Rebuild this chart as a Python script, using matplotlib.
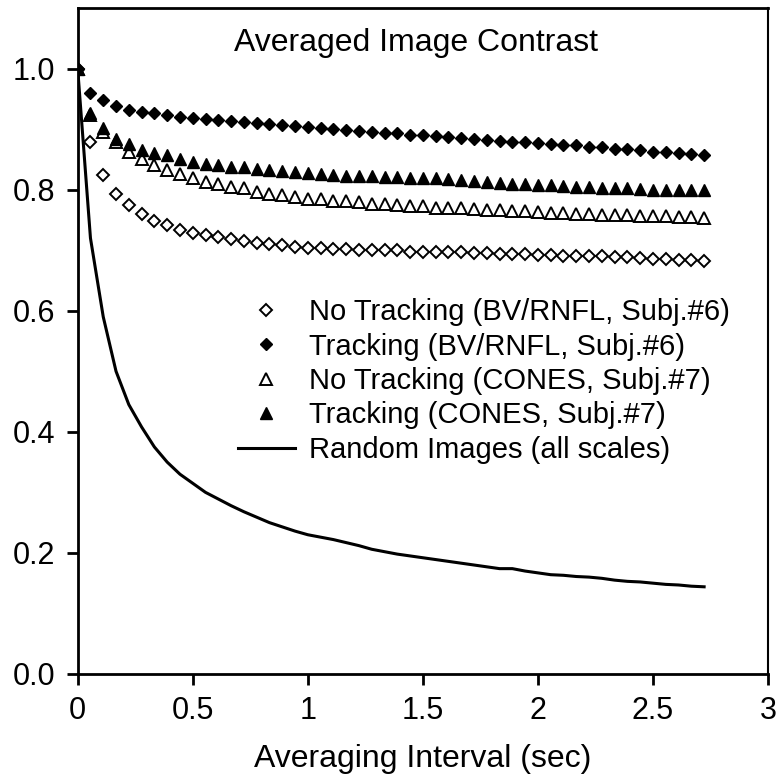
import numpy as np
import matplotlib
matplotlib.use("Agg")
import matplotlib.pyplot as plt

plt.rcParams['font.family'] = ['Liberation Sans', 'DejaVu Sans']

# averaging interval, frames at 18 Hz
t = np.arange(50) / 18.0

no_trk_bv = [1.0, 0.879, 0.824, 0.793, 0.774, 0.760, 0.748, 0.741, 0.733, 0.729,
             0.725, 0.722, 0.718, 0.716, 0.712, 0.711, 0.709, 0.705, 0.704, 0.704,
             0.702, 0.702, 0.701, 0.701, 0.700, 0.700, 0.697, 0.697, 0.697, 0.697,
             0.697, 0.696, 0.695, 0.694, 0.694, 0.693, 0.692, 0.692, 0.691, 0.691,
             0.690, 0.690, 0.689, 0.688, 0.687, 0.686, 0.685, 0.684, 0.684, 0.683]

trk_bv = [1.0, 0.959, 0.948, 0.939, 0.931, 0.928, 0.926, 0.923, 0.920, 0.918,
          0.917, 0.915, 0.914, 0.912, 0.910, 0.908, 0.907, 0.905, 0.903, 0.902,
          0.900, 0.898, 0.897, 0.896, 0.894, 0.893, 0.891, 0.890, 0.889, 0.887,
          0.885, 0.884, 0.882, 0.880, 0.879, 0.878, 0.877, 0.876, 0.874, 0.873,
          0.871, 0.870, 0.868, 0.867, 0.865, 0.863, 0.862, 0.860, 0.859, 0.857]

no_trk_cones = [1.0, 0.924, 0.896, 0.878, 0.863, 0.850, 0.840, 0.832, 0.826, 0.819,
                0.813, 0.810, 0.804, 0.802, 0.796, 0.793, 0.791, 0.788, 0.785, 0.785,
                0.782, 0.782, 0.780, 0.777, 0.777, 0.775, 0.773, 0.773, 0.770, 0.770,
                0.769, 0.768, 0.767, 0.766, 0.765, 0.764, 0.763, 0.762, 0.761, 0.760,
                0.760, 0.759, 0.758, 0.758, 0.757, 0.757, 0.756, 0.755, 0.755, 0.754]

trk_cones = [1.0, 0.926, 0.902, 0.884, 0.876, 0.865, 0.860, 0.857, 0.850, 0.846,
             0.843, 0.840, 0.838, 0.837, 0.834, 0.832, 0.831, 0.829, 0.828, 0.826,
             0.825, 0.823, 0.823, 0.822, 0.821, 0.821, 0.820, 0.819, 0.819, 0.818,
             0.816, 0.815, 0.813, 0.811, 0.810, 0.809, 0.808, 0.807, 0.806, 0.805,
             0.804, 0.803, 0.802, 0.802, 0.801, 0.800, 0.799, 0.799, 0.799, 0.799]

random_imgs = [1.0, 0.720, 0.590, 0.500, 0.445, 0.408, 0.375, 0.350, 0.330, 0.315,
               0.300, 0.289, 0.278, 0.268, 0.259, 0.250, 0.243, 0.236, 0.230, 0.226,
               0.222, 0.217, 0.212, 0.206, 0.202, 0.198, 0.195, 0.192, 0.189, 0.186,
               0.183, 0.180, 0.177, 0.174, 0.174, 0.170, 0.167, 0.164, 0.163, 0.161,
               0.160, 0.158, 0.155, 0.153, 0.152, 0.150, 0.148, 0.147, 0.145, 0.144]

labels = ['No Tracking (BV/RNFL, Subj.#6)', 'Tracking (BV/RNFL, Subj.#6)',
          'No Tracking (CONES, Subj.#7)', 'Tracking (CONES, Subj.#7)',
          'Random Images (all scales)']

fig = plt.figure(figsize=(7.83, 7.77), dpi=100)
ax = fig.add_axes([0.0992, 0.1326, 0.8817, 0.857])

ax.plot(t, random_imgs, '-', color='black', lw=2.2, label=labels[4], zorder=2)
ax.plot(t, no_trk_bv, 'D', ms=6.3, mfc='white', mec='black', mew=1.4,
        ls='none', label=labels[0], zorder=3)
ax.plot(t, no_trk_cones, '^', ms=9, mfc='white', mec='black', mew=1.4,
        ls='none', label=labels[2], zorder=3)
ax.plot(t, trk_cones, '^', ms=9, mfc='black', mec='black', mew=1.0,
        ls='none', label=labels[3], zorder=4)
ax.plot(t, trk_bv, 'D', ms=6.3, mfc='black', mec='black', mew=1.0,
        ls='none', label=labels[1], zorder=4)

ax.set_xlim(0, 3)
ax.set_ylim(0, 1.1)
ax.set_xticks([0, 0.5, 1, 1.5, 2, 2.5, 3])
ax.set_xticklabels(['0', '0.5', '1', '1.5', '2', '2.5', '3'])
ax.set_yticks([0.0, 0.2, 0.4, 0.6, 0.8, 1.0])
ax.set_yticklabels(['0.0', '0.2', '0.4', '0.6', '0.8', '1.0'])
ax.tick_params(axis='both', direction='out', length=8, width=2, labelsize=22)
ax.tick_params(axis='y', pad=8)
ax.tick_params(axis='x', pad=8)
for s in ax.spines.values():
    s.set_linewidth(2)
ax.spines['right'].set_linewidth(1.5)

ax.set_xlabel('Averaging Interval (sec)', fontsize=23, labelpad=13)
ax.text(0.49, 0.948, 'Averaged Image Contrast', transform=ax.transAxes,
        ha='center', va='center', fontsize=23)

h, l = ax.get_legend_handles_labels()
order = [1, 4, 2, 3, 0]
ax.legend([h[i] for i in order], [l[i] for i in order], loc='center left',
          bbox_to_anchor=(0.232, 0.44), frameon=False, fontsize=21,
          borderpad=0, borderaxespad=0, handlelength=1.95, handletextpad=0.5,
          labelspacing=0.22)

plt.savefig('out.png', dpi=100)
